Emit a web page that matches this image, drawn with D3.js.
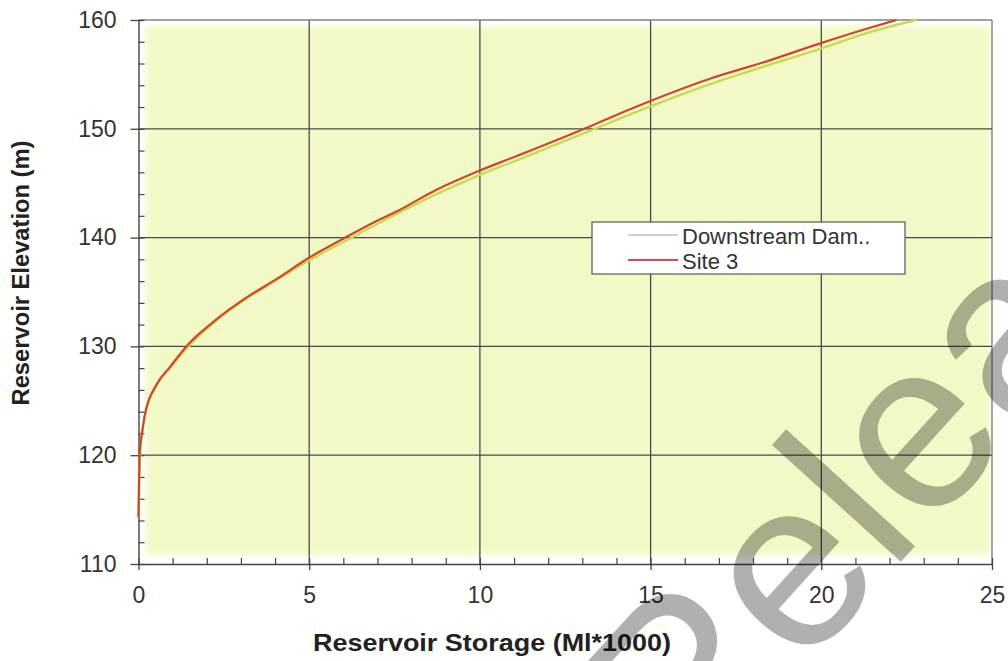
<!DOCTYPE html>
<html><head><meta charset="utf-8">
<script src="https://cdn.jsdelivr.net/npm/d3@7/dist/d3.min.js"></script>
<style>body{margin:0;background:#fff;} svg{display:block}</style>
</head><body>
<svg id="c" width="1008" height="661"></svg>
<script>
// ---- data ----
const seriesNames = ["Downstream Dam..", "Site 3"];
const storageSite3 = [0, 0.04, 0.11, 0.19, 0.53, 0.92, 1.46, 2.29, 3.17, 4.05, 4.97, 6.0, 7.02, 7.56, 8.73, 9.95, 11.08, 13.13, 14.4, 15.03, 16.74, 18.4, 20.01, 21.33, 22.2];
const elevSite3    = [114.3, 120.5, 122.2, 123.8, 126.5, 128.1, 130.2, 132.5, 134.5, 136.2, 138.1, 139.9, 141.6, 142.4, 144.4, 146.1, 147.5, 150.1, 151.8, 152.6, 154.6, 156.2, 157.9, 159.2, 160.0];
const storageDown  = [0, 0.04, 0.19, 0.53, 0.92, 1.46, 2.29, 3.17, 4.05, 5.0, 6.0, 7.02, 8.73, 9.95, 11.08, 13.13, 15.03, 16.74, 18.4, 20.01, 21.33, 22.79];
const elevDown     = [114.3, 119.8, 123.6, 126.4, 128.0, 130.0, 132.4, 134.4, 136.1, 137.9, 139.6, 141.3, 144.0, 145.7, 147.1, 149.7, 152.1, 154.1, 155.8, 157.4, 158.8, 160.0];
const xTickValues = [0, 5, 10, 15, 20, 25];
const xMinorValues = d3.range(0, 26, 1);
const yTickValues = [110, 120, 130, 140, 150, 160];
const yMinorValues = d3.range(110, 161, 2);
const xTitle = "Reservoir Storage (Ml*1000)";
const yTitle = "Reservoir Elevation (m)";
const watermarkText = "Released";

// ---- setup ----
const FONT = "'Liberation Sans', Arial, Helvetica, sans-serif";
const svg = d3.select("#c");
const x = d3.scaleLinear().domain([0, 25]).range([138.5, 992]);
const y = d3.scaleLinear().domain([110, 160]).range([564, 20]);

const defs = svg.append("defs");
defs.append("filter").attr("id", "blur").attr("x", "-5%").attr("y", "-5%").attr("width", "110%").attr("height", "110%")
  .append("feGaussianBlur").attr("stdDeviation", 3);

// plot background
svg.append("rect")
  .attr("x", x(0) + 7).attr("y", y(160) + 6)
  .attr("width", x(25) - x(0) - 9).attr("height", y(110) - y(160) - 15)
  .attr("fill", "#f3f9c6").attr("filter", "url(#blur)");

// grid lines
const grid = svg.append("g");
grid.selectAll("line.v").data(xTickValues.filter(d => d > 0)).join("line")
  .attr("x1", d => x(d)).attr("x2", d => x(d)).attr("y1", y(160)).attr("y2", y(110))
  .attr("stroke", d => d === 25 ? "#777" : "#4a4a4a").attr("stroke-width", 1.3);
grid.selectAll("line.h").data(yTickValues.filter(d => d > 110)).join("line")
  .attr("x1", x(0)).attr("x2", x(25)).attr("y1", d => y(d)).attr("y2", d => y(d))
  .attr("stroke", d => d === 160 ? "#808080" : "#4a4a4a").attr("stroke-width", 1.3);

// minor ticks (inside)
const xMinor = d3.axisBottom(x).tickValues(xMinorValues).tickSize(-6).tickFormat("");
const yMinor = d3.axisLeft(y).tickValues(yMinorValues).tickSize(-6).tickFormat("");
svg.append("g").attr("transform", `translate(0,${y(110)})`).call(xMinor)
  .call(g => g.select(".domain").remove())
  .selectAll("line").attr("stroke", "#444").attr("stroke-width", 1.2);
svg.append("g").attr("transform", `translate(${x(0)},0)`).call(yMinor)
  .call(g => g.select(".domain").remove())
  .selectAll("line").attr("stroke", "#444").attr("stroke-width", 1.2);

// major axes
const xAxis = d3.axisBottom(x).tickValues(xTickValues).tickSize(6).tickSizeOuter(0).tickPadding(17).tickFormat(d3.format("d"));
const yAxis = d3.axisLeft(y).tickValues(yTickValues).tickSize(8).tickSizeOuter(0).tickPadding(14).tickFormat(d3.format("d"));
const gx = svg.append("g").attr("transform", `translate(0,${y(110)})`).call(xAxis);
const gy = svg.append("g").attr("transform", `translate(${x(0)},0)`).call(yAxis);
[gx, gy].forEach(g => {
  g.select(".domain").attr("stroke", "#444").attr("stroke-width", 1.4);
  g.selectAll(".tick line").attr("stroke", "#444").attr("stroke-width", 1.3);
  g.selectAll(".tick text").attr("fill", "#333").style("font-family", FONT).style("font-size", "23px");
});

// series lines
const line = d3.line().x(d => x(d[0])).y(d => y(d[1])).curve(d3.curveMonotoneX);
const downData = storageDown.map((s, i) => [s, elevDown[i]]);
const site3Data = storageSite3.map((s, i) => [s, elevSite3[i]]);
svg.append("path").datum(downData).attr("d", line)
  .attr("fill", "none").attr("stroke", "#c3dc52").attr("stroke-width", 2.4);
svg.append("path").datum(site3Data).attr("d", line)
  .attr("fill", "none").attr("stroke", "#d4442a").attr("stroke-width", 2.2);

// legend
const lg = svg.append("g");
lg.append("rect").attr("x", 592).attr("y", 222).attr("width", 313).attr("height", 52)
  .attr("fill", "#fff").attr("stroke", "#555").attr("stroke-width", 1.2);
const legendColors = ["#cfcfcf", "#dc4a58"];
seriesNames.forEach((name, i) => {
  const ly = 235 + i * 25;
  lg.append("line").attr("x1", 628).attr("x2", 678).attr("y1", ly).attr("y2", ly)
    .attr("stroke", legendColors[i]).attr("stroke-width", 2);
  lg.append("text").attr("x", 682).attr("y", ly + 9).text(name)
    .attr("fill", "#333").style("font-family", FONT).style("font-size", "22px");
});

// axis titles
svg.append("text").attr("x", 492).attr("y", 651).attr("text-anchor", "middle")
  .attr("textLength", 358).attr("lengthAdjust", "spacingAndGlyphs")
  .style("font-family", FONT).style("font-size", "24px").style("font-weight", "bold")
  .attr("fill", "#222").text(xTitle);
svg.append("text").attr("transform", "translate(29,273) rotate(-90)").attr("text-anchor", "middle")
  .attr("textLength", 265).attr("lengthAdjust", "spacingAndGlyphs")
  .style("font-family", FONT).style("font-size", "23px").style("font-weight", "bold")
  .attr("fill", "#222").text(yTitle);

// watermark stamp
svg.append("text").attr("transform", "translate(684,801) rotate(-47.8)")
  .style("font-family", FONT).style("font-size", "240px")
  .attr("fill", "#000").attr("fill-opacity", 0.31).text(watermarkText);
</script>
</body></html>
